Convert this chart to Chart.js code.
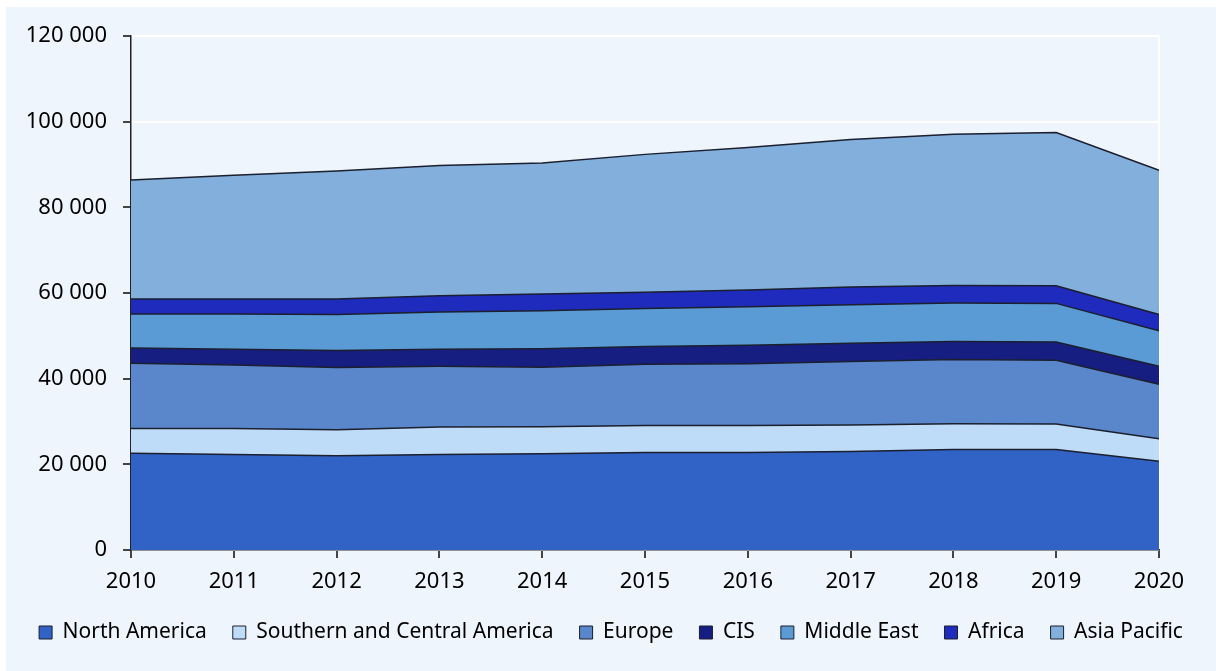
<!DOCTYPE html>
<html>
<head>
<meta charset="utf-8">
<script src="https://cdn.jsdelivr.net/npm/chart.js@4.4.1/dist/chart.umd.min.js"></script>
<style>
  body { margin: 0; background: #ffffff; }
  #wrap { position: absolute; left: 6px; top: 7px; width: 1210px; height: 664px; background: #eef5fc; }
</style>
</head>
<body>
<div id="wrap"><canvas id="chart"></canvas></div>
<script>
// years on the x axis
const years = ['2010', '2011', '2012', '2013', '2014', '2015', '2016', '2017', '2018', '2019', '2020'];

// values per region
const northAmerica = [22600, 22300, 22000, 22300, 22500, 22800, 22800, 23000, 23500, 23500, 20700];
const southCentral = [5800, 6100, 6100, 6400, 6300, 6300, 6300, 6200, 6000, 5900, 5300];
const europe = [15200, 14800, 14500, 14200, 13900, 14300, 14400, 14800, 15000, 14900, 12700];
const cis = [3600, 3700, 4000, 4000, 4300, 4100, 4300, 4300, 4200, 4300, 4200];
const middleEast = [7900, 8200, 8400, 8700, 8900, 8900, 9000, 9000, 9000, 9000, 8300];
const africa = [3500, 3500, 3600, 3800, 3900, 3800, 3900, 4100, 4100, 4100, 3800];
const asiaPacific = [27800, 28900, 29900, 30400, 30600, 32200, 33300, 34500, 35300, 35800, 33700];

const yTicks = [0, 20000, 40000, 60000, 80000, 100000, 120000];

const series = [
  { label: 'North America', data: northAmerica, color: '#3163c7' },
  { label: 'Southern and Central America', data: southCentral, color: '#bedcf7' },
  { label: 'Europe', data: europe, color: '#5a87cb' },
  { label: 'CIS', data: cis, color: '#161e82' },
  { label: 'Middle East', data: middleEast, color: '#5a9bd6' },
  { label: 'Africa', data: africa, color: '#1e2bbd' },
  { label: 'Asia Pacific', data: asiaPacific, color: '#82afdb' }
];

function fmt(v) {
  return String(v).replace(/\B(?=(\d{3})+(?!\d))/g, ' ');
}

Chart.defaults.font.family = '"Noto Sans", sans-serif';
Chart.defaults.color = '#000000';

new Chart(document.getElementById('chart'), {
  type: 'line',
  data: {
    labels: years,
    datasets: series.map((s, i) => ({
      label: s.label,
      data: s.data,
      backgroundColor: s.color,
      borderColor: '#1b1f2e',
      borderWidth: 1.5,
      pointRadius: 0,
      tension: 0,
      fill: i === 0 ? 'origin' : '-1'
    }))
  },
  options: {
    responsive: true,
    maintainAspectRatio: false,
    animation: false,
    layout: { padding: { left: 4, right: 4, top: 28, bottom: 18 } },
    plugins: {
      tooltip: { enabled: false },
      legend: {
        position: 'bottom',
        labels: {
          font: { size: 21 },
          boxWidth: 13,
          boxHeight: 13,
          padding: 26,
          generateLabels: chart => chart.data.datasets.map((d, i) => ({
            text: d.label,
            fillStyle: d.backgroundColor,
            strokeStyle: '#1b1f2e',
            lineWidth: 1,
            datasetIndex: i
          }))
        }
      }
    },
    scales: {
      x: {
        offset: false,
        afterFit: axis => { axis.height = 46; },
        grid: {
          drawOnChartArea: true,
          color: ctx => ctx.index === years.length - 1 ? '#ffffff' : 'rgba(0,0,0,0)',
          lineWidth: 2,
          tickColor: '#444444',
          tickLength: 8
        },
        border: { color: '#222222', width: 1.5 },
        ticks: { font: { size: 22 }, padding: 11, maxRotation: 0 }
      },
      y: {
        stacked: true,
        min: 0,
        max: 120000,
        afterBuildTicks: axis => { axis.ticks = yTicks.map(v => ({ value: v })); },
        afterFit: axis => { axis.width = 121; },
        grid: {
          color: '#ffffff',
          lineWidth: 2,
          tickColor: '#444444',
          tickLength: 8
        },
        border: { color: '#222222', width: 1.5 },
        ticks: { font: { size: 22 }, padding: 16, callback: v => fmt(v) }
      },
      // empty axis on the right, only keeps the gap beside the plot
      yRight: {
        position: 'right',
        display: true,
        grid: { display: false },
        border: { display: false },
        ticks: { display: false },
        afterFit: axis => { axis.width = 53; }
      }
    }
  }
});
</script>
</body>
</html>
